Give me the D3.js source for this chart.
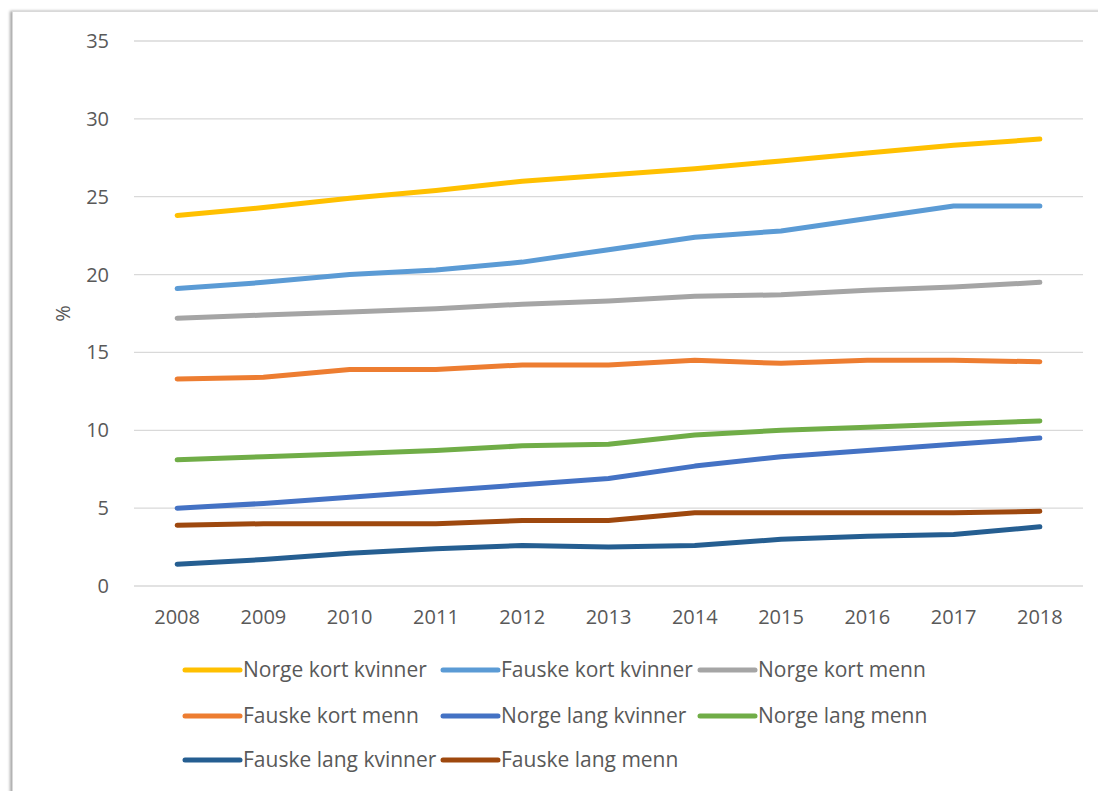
<!DOCTYPE html>
<html>
<head>
<meta charset="utf-8">
<script src="https://cdn.jsdelivr.net/npm/d3@7"></script>
<style>
  body { margin: 0; background: #fff; }
  svg { display: block; }
  text { font-family: "Open Sans", "Noto Sans", sans-serif; fill: #595959; }
</style>
</head>
<body>
<div id="vis"></div>
<script>
var years = ["2008", "2009", "2010", "2011", "2012", "2013", "2014", "2015", "2016", "2017", "2018"];
var yTicks = [0, 5, 10, 15, 20, 25, 30, 35];

var seriesNames = ["Norge kort kvinner", "Fauske kort kvinner", "Norge kort menn",
  "Fauske kort menn", "Norge lang kvinner", "Norge lang menn",
  "Fauske lang kvinner", "Fauske lang menn"];
var seriesColors = ["#ffc000", "#5b9bd5", "#a5a5a5", "#ed7d31", "#4472c4", "#70ad47", "#255e91", "#9e480e"];

var norgeKortKvinner  = [23.8, 24.3, 24.9, 25.4, 26.0, 26.4, 26.8, 27.3, 27.8, 28.3, 28.7];
var fauskeKortKvinner = [19.1, 19.5, 20.0, 20.3, 20.8, 21.6, 22.4, 22.8, 23.6, 24.4, 24.4];
var norgeKortMenn     = [17.2, 17.4, 17.6, 17.8, 18.1, 18.3, 18.6, 18.7, 19.0, 19.2, 19.5];
var fauskeKortMenn    = [13.3, 13.4, 13.9, 13.9, 14.2, 14.2, 14.5, 14.3, 14.5, 14.5, 14.4];
var norgeLangKvinner  = [5.0, 5.3, 5.7, 6.1, 6.5, 6.9, 7.7, 8.3, 8.7, 9.1, 9.5];
var norgeLangMenn     = [8.1, 8.3, 8.5, 8.7, 9.0, 9.1, 9.7, 10.0, 10.2, 10.4, 10.6];
var fauskeLangKvinner = [1.4, 1.7, 2.1, 2.4, 2.6, 2.5, 2.6, 3.0, 3.2, 3.3, 3.8];
var fauskeLangMenn    = [3.9, 4.0, 4.0, 4.0, 4.2, 4.2, 4.7, 4.7, 4.7, 4.7, 4.8];

var seriesValues = [norgeKortKvinner, fauskeKortKvinner, norgeKortMenn, fauskeKortMenn,
  norgeLangKvinner, norgeLangMenn, fauskeLangKvinner, fauskeLangMenn];

var width = 1098, height = 791;
var plotLeft = 134, plotRight = 1083, plotTop = 41, plotBottom = 586;

var svg = d3.select('#vis').append('svg')
  .attr('width', width)
  .attr('height', height);

// frame with soft shadow on the left
var defs = svg.append('defs');
var f = defs.append('filter').attr('id', 'shadow').attr('x', '-5%').attr('y', '-5%').attr('width', '110%').attr('height', '110%');
f.append('feDropShadow').attr('dx', -2).attr('dy', 0).attr('stdDeviation', 1.5).attr('flood-color', '#000').attr('flood-opacity', 0.35);
svg.append('rect')
  .attr('x', 12.5).attr('y', 11.5)
  .attr('width', 1200).attr('height', 900)
  .attr('fill', '#fff')
  .attr('stroke', '#d9d9d9')
  .attr('filter', 'url(#shadow)');

var x = d3.scaleBand().domain(years).range([plotLeft, plotRight]);
var y = d3.scaleLinear().domain([0, 35]).range([plotBottom, plotTop]);

// gridlines
svg.append('g')
  .selectAll('line')
  .data(yTicks)
  .enter().append('line')
  .attr('x1', plotLeft).attr('x2', plotRight)
  .attr('y1', function (d) { return y(d); })
  .attr('y2', function (d) { return y(d); })
  .attr('stroke', '#d9d9d9')
  .attr('stroke-width', 1.3);

// y labels
svg.append('g')
  .selectAll('text')
  .data(yTicks)
  .enter().append('text')
  .attr('x', 109)
  .attr('y', function (d) { return y(d); })
  .attr('dy', '0.35em')
  .attr('text-anchor', 'end')
  .style('font-size', '20px')
  .text(function (d) { return d; });

// x labels
svg.append('g')
  .selectAll('text')
  .data(years)
  .enter().append('text')
  .attr('x', function (d) { return x(d) + x.bandwidth() / 2; })
  .attr('y', 617)
  .attr('dy', '0.35em')
  .attr('text-anchor', 'middle')
  .style('font-size', '20px')
  .text(function (d) { return d; });

svg.append('text')
  .attr('transform', 'translate(70,' + (plotTop + plotBottom) / 2 + ') rotate(-90)')
  .attr('text-anchor', 'middle')
  .style('font-size', '20px')
  .text('%');

var line = d3.line()
  .x(function (d, i) { return x(years[i]) + x.bandwidth() / 2; })
  .y(function (d) { return y(d); });

svg.append('g')
  .selectAll('path')
  .data(seriesValues)
  .enter().append('path')
  .attr('d', line)
  .attr('fill', 'none')
  .attr('stroke', function (d, i) { return seriesColors[i]; })
  .attr('stroke-width', 5)
  .attr('stroke-linecap', 'round')
  .attr('stroke-linejoin', 'round');

// legend, 3 per row
var legendCols = [185, 443, 700];
var legendRows = [670, 716, 760];
var legend = svg.append('g')
  .selectAll('g')
  .data(seriesNames)
  .enter().append('g')
  .attr('transform', function (d, i) {
    return 'translate(' + legendCols[i % 3] + ',' + legendRows[Math.floor(i / 3)] + ')';
  });
legend.append('line')
  .attr('x1', 0).attr('x2', 55)
  .attr('stroke', function (d, i) { return seriesColors[i]; })
  .attr('stroke-width', 5)
  .attr('stroke-linecap', 'round');
legend.append('text')
  .attr('x', 58)
  .attr('dy', '0.35em')
  .style('font-size', '21px')
  .text(function (d) { return d; });
</script>
</body>
</html>
